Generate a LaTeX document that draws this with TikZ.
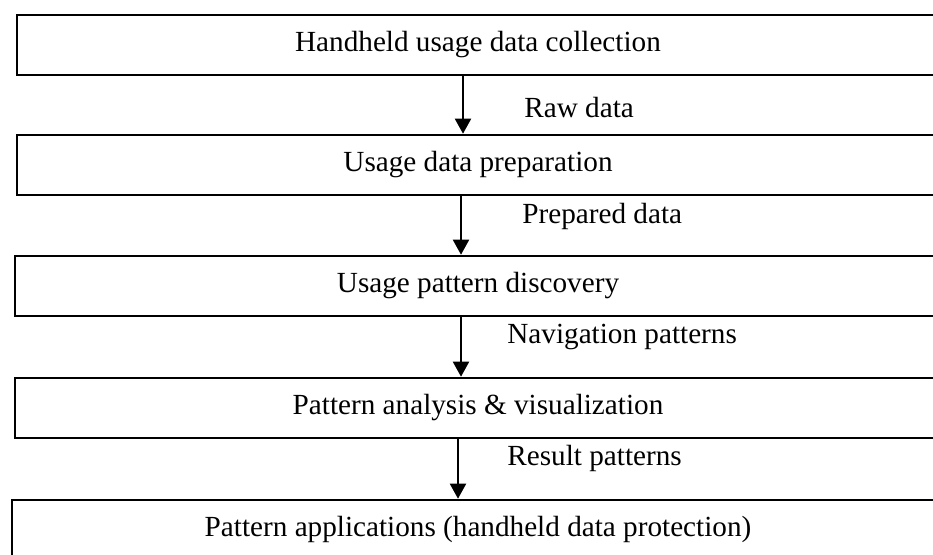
\documentclass[tikz,border=0pt]{standalone}
\usepackage{fontspec}
\setmainfont{Liberation Serif}
\usetikzlibrary{arrows.meta}

\begin{document}
\begin{tikzpicture}[x=0.5pt,y=-0.5pt,font=\fontsize{14.6}{17}\selectfont,
    stage/.style={draw, line width=1.3pt, minimum height=30pt, inner sep=0pt,
      text height=0.8em, text depth=0.18em},
    tag/.style={anchor=base west, inner sep=0pt},
    flow/.style={line width=1pt, -{Triangle[length=7.5pt,width=8pt]}}]
			%Frame
			\useasboundingbox (0,0) rectangle (933,554);
			\clip (0,0) rectangle (933,554);

			%Stages
			\node[stage, minimum width=461pt] (s1) at (478,45) {Handheld usage data collection};
			\node[stage, minimum width=461pt] (s2) at (478,165) {Usage data preparation};
			\node[stage, minimum width=463pt] (s3) at (478,286) {Usage pattern discovery};
			\node[stage, minimum width=463pt] (s4) at (478,408) {Pattern analysis \& visualization};
			\node[stage, minimum width=466pt] (s5) at (478,530) {Pattern applications (handheld data protection)};

			%Flow between stages
			\draw[flow] ([xshift=-7.5pt]s1.south) -- ([xshift=-7.5pt]s2.north);
			\draw[flow] ([xshift=-8.5pt]s2.south) -- ([xshift=-8.5pt]s3.north);
			\draw[flow] ([xshift=-8.5pt]s3.south) -- ([xshift=-8.5pt]s4.north);
			\draw[flow] ([xshift=-10pt]s4.south) -- ([xshift=-10pt]s5.north);

			%Data labels
			\node[tag] (raw) at (524,117) {Raw data};
			\node[tag] (prep) at (522,223) {Prepared data};
			\node[tag] (nav) at (507,343) {Navigation patterns};
			\node[tag] (res) at (507,465) {Result patterns};
		\end{tikzpicture}
\end{document}
